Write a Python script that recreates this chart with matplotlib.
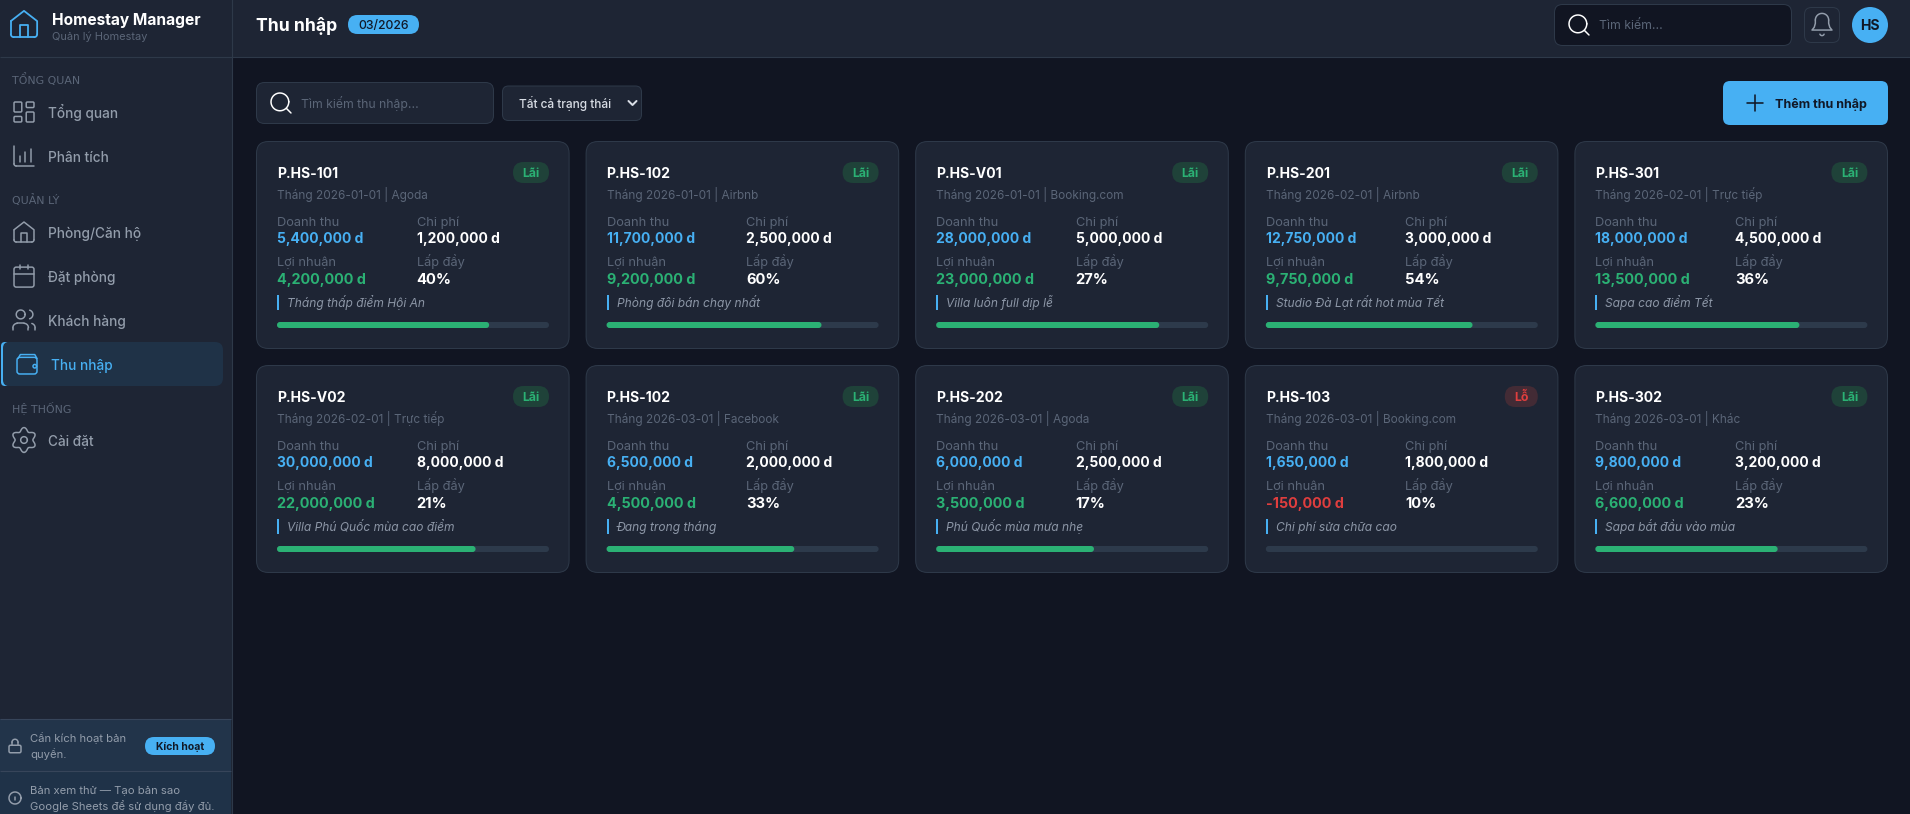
#!/usr/bin/env python3
import numpy as np
import matplotlib
matplotlib.use("Agg")
import matplotlib.pyplot as plt
from matplotlib.patches import FancyBboxPatch, Circle

plt.rcParams['font.family'] = ['Inter', 'Noto Sans', 'DejaVu Sans']

rooms = ["P.HS-101", "P.HS-102", "P.HS-V01", "P.HS-201", "P.HS-301",
         "P.HS-V02", "P.HS-102", "P.HS-202", "P.HS-103", "P.HS-302"]
periods = ["Tháng 2026-01-01 | Agoda", "Tháng 2026-01-01 | Airbnb",
           "Tháng 2026-01-01 | Booking.com", "Tháng 2026-02-01 | Airbnb",
           "Tháng 2026-02-01 | Trực tiếp", "Tháng 2026-02-01 | Trực tiếp",
           "Tháng 2026-03-01 | Facebook", "Tháng 2026-03-01 | Agoda",
           "Tháng 2026-03-01 | Booking.com", "Tháng 2026-03-01 | Khác"]
revenue = [5400000, 11700000, 28000000, 12750000, 18000000,
           30000000, 6500000, 6000000, 1650000, 9800000]
cost = [1200000, 2500000, 5000000, 3000000, 4500000,
        8000000, 2000000, 2500000, 1800000, 3200000]
profit = [4200000, 9200000, 23000000, 9750000, 13500000,
          22000000, 4500000, 3500000, -150000, 6600000]
occupancy = [40, 60, 27, 54, 36, 21, 33, 17, 10, 23]
notes = ["Tháng thấp điểm Hội An", "Phòng đôi bán chạy nhất", "Villa luôn full dịp lễ",
         "Studio Đà Lạt rất hot mùa Tết", "Sapa cao điểm Tết", "Villa Phú Quốc mùa cao điểm",
         "Đang trong tháng", "Phú Quốc mùa mưa nhẹ", "Chi phí sửa chữa cao",
         "Sapa bắt đầu vào mùa"]
progress = [78, 79, 82, 76, 75, 73, 69, 58, 0, 67]

BG = "#111522"
PANEL = "#1e2534"
LINE = "#2e3949"
BLUE = "#47b0f3"
GREEN = "#2bb174"
RED = "#e03e3e"
DIM = "#5b6678"
MENU = "#939dab"
DARK = "#111827"

fig = plt.figure(figsize=(19.10, 8.14), dpi=100, facecolor=BG)
ax = fig.add_axes([0, 0, 1, 1])
ax.set_xlim(0, 1910)
ax.set_ylim(814, 0)
ax.axis("off")


def txt(x, y, s, px, color, weight="normal", ha="left", style="normal", family=None):
    kw = {"family": family} if family else {}
    ax.text(x, y, s, fontsize=px * 0.72, color=color, fontweight=weight, ha=ha,
            va="baseline", fontstyle=style, **kw)


def box(x0, y0, x1, y1, r, fc, ec="none", lw=1.0, z=1):
    ax.add_patch(FancyBboxPatch((x0 + r, y0 + r), x1 - x0 - 2 * r, y1 - y0 - 2 * r,
                                boxstyle=f"round,pad={r},rounding_size={r}",
                                fc=fc, ec=ec, lw=lw * 0.72, zorder=z))


def rect(x0, y0, x1, y1, fc, z=1):
    ax.fill([x0, x1, x1, x0], [y0, y0, y1, y1], color=fc, lw=0, zorder=z)


def hline(x0, x1, y, color=LINE):
    ax.plot([x0, x1], [y, y], color=color, lw=0.8, zorder=2, solid_capstyle="butt")


# icons are drawn in a 24 unit box, centred on cx, cy
class Icon:
    def __init__(self, cx, cy, s, color, lw=1.5):
        self.cx, self.cy, self.s, self.color, self.lw = cx, cy, s, color, lw

    def line(self, *pts):
        p = np.array(pts, dtype=float)
        ax.plot(self.cx + (p[:, 0] - 12) * self.s, self.cy + (p[:, 1] - 12) * self.s,
                color=self.color, lw=self.lw * 0.72, zorder=5,
                solid_capstyle="round", solid_joinstyle="round")

    def arc(self, x, y, r, t0=0, t1=360):
        t = np.radians(np.linspace(t0, t1, 40))
        self.line(*zip(x + r * np.cos(t), y + r * np.sin(t)))

    def rrect(self, x, y, w, h, r):
        c = self.cx + (x - 12) * self.s
        d = self.cy + (y - 12) * self.s
        box(c, d, c + w * self.s, d + h * self.s, r * self.s, "none", self.color, self.lw, z=5)


def home(cx, cy, s, color, lw=1.5):
    i = Icon(cx, cy, s, color, lw)
    i.line((3, 10), (12, 3), (21, 10), (21, 19))
    i.arc(19, 19, 2, 0, 90)
    i.line((19, 21), (5, 21))
    i.arc(5, 19, 2, 90, 180)
    i.line((3, 19), (3, 10))
    i.line((9, 21), (9, 13), (15, 13), (15, 21))


def grid(cx, cy, s, color):
    i = Icon(cx, cy, s, color)
    i.rrect(3, 3, 7, 9, 1)
    i.rrect(14, 3, 7, 5, 1)
    i.rrect(14, 12, 7, 9, 1)
    i.rrect(3, 16, 7, 5, 1)


def chart(cx, cy, s, color):
    i = Icon(cx, cy, s, color)
    i.line((3, 3), (3, 19))
    i.arc(5, 19, 2, 90, 180)
    i.line((5, 21), (21, 21))
    i.line((8, 17), (8, 12))
    i.line((13, 17), (13, 8))
    i.line((18, 17), (18, 6))


def calendar(cx, cy, s, color):
    i = Icon(cx, cy, s, color)
    i.rrect(3, 4, 18, 18, 2)
    i.line((3, 10), (21, 10))
    i.line((8, 2), (8, 6))
    i.line((16, 2), (16, 6))


def users(cx, cy, s, color):
    i = Icon(cx, cy, s, color)
    i.arc(9, 7, 4)
    i.line((2, 21), (2, 19))
    i.arc(6, 19, 4, 180, 270)
    i.line((6, 15), (12, 15))
    i.arc(12, 19, 4, 270, 360)
    i.line((16, 19), (16, 21))
    i.arc(16, 7, 4, -75, 75)
    i.arc(18, 19, 4, 285, 360)
    i.line((22, 19), (22, 21))


def wallet(cx, cy, s, color):
    i = Icon(cx, cy, s, color)
    i.rrect(3, 6, 18, 15, 2.5)
    i.line((4, 7), (6, 3.5), (19, 3.5), (21, 7))
    i.arc(19, 14, 1.6)


def gear(cx, cy, s, color):
    i = Icon(cx, cy, s, color)
    t = np.linspace(0, 2 * np.pi, 120)
    r = 9.6 + 1.6 * np.cos(6 * t)
    i.line(*zip(12 + r * np.sin(t), 12 + r * np.cos(t)))
    i.arc(12, 12, 3)


def lock(cx, cy, s, color):
    i = Icon(cx, cy, s, color)
    i.rrect(4, 11, 16, 10, 2)
    i.line((8, 11), (8, 7))
    i.arc(12, 7, 4, 180, 360)
    i.line((16, 7), (16, 11))


def info(cx, cy, s, color):
    i = Icon(cx, cy, s, color)
    i.arc(12, 12, 10)
    i.line((12, 16), (12, 11))
    i.line((12, 8), (12, 8.1))


def search(cx, cy, s):
    i = Icon(cx, cy, s, "white")
    i.arc(11, 11, 8)
    i.line((17, 17), (21, 21))


def bell(cx, cy, s, color):
    i = Icon(cx, cy, s, color)
    i.arc(12, 8, 6, 180, 360)
    i.line((6, 8), (6, 11), (5, 14.5), (3, 17), (21, 17), (19, 14.5), (18, 11), (18, 8))
    i.arc(12, 20, 2, 20, 160)


# sidebar
rect(0, 0, 231.5, 814, PANEL)
ax.plot([231.5, 231.5], [0, 814], color=LINE, lw=0.8, zorder=3)
hline(0, 231.5, 57.3)
home(24, 24, 1.46, BLUE, 1.8)
txt(52, 25.5, "Homestay Manager", 15.5, "white", "bold")
txt(52, 39.5, "Quản lý Homestay", 11, DIM)

txt(12, 84, "TỔNG QUAN", 11, DIM, family="DejaVu Sans")
grid(24, 112, 1.11, MENU)
txt(48, 118, "Tổng quan", 13.6, MENU, "medium")
chart(24, 156, 1.11, MENU)
txt(48, 162, "Phân tích", 13.6, MENU, "medium")
txt(12, 204, "QUẢN LÝ", 11, DIM, family="DejaVu Sans")
home(24, 232, 1.11, MENU)
txt(48, 238, "Phòng/Căn hộ", 13.6, MENU, "medium")
calendar(24, 276, 1.11, MENU)
txt(48, 282, "Đặt phòng", 13.6, MENU, "medium")
users(24, 320, 1.11, MENU)
txt(48, 326, "Khách hàng", 13.6, MENU, "medium")
box(1, 342, 223, 386, 8, "#1f3247")
box(1, 342, 9, 386, 4, BLUE, z=1)
box(3, 342, 20, 386, 6, "#1f3247", z=1.5)
wallet(27, 364, 1.11, BLUE)
txt(51, 370, "Thu nhập", 13.6, BLUE, "medium")
txt(12, 412, "HỆ THỐNG", 11, DIM, family="DejaVu Sans")
gear(24, 440, 1.11, MENU)
txt(48, 446, "Cài đặt", 13.6, MENU, "medium")

rect(0, 719, 231, 771, "#22344a", z=1.6)
rect(0, 771, 231, 814, "#1f3248", z=1.6)
hline(0, 231, 719.3, "#37455a")
hline(0, 231, 771.3, "#37455a")
lock(15, 746, 0.75, MENU)
txt(30, 742, "Cần kích hoạt bản", 11.3, MENU)
txt(30, 758, "quyền.", 11.3, MENU)
box(145, 737, 215, 755, 9, BLUE, z=3)
txt(180, 750, "Kích hoạt", 10.4, DARK, "bold", ha="center")
info(15, 798, 0.6, MENU)
txt(30, 794, "Bản xem thử — Tạo bản sao", 11.3, MENU)
txt(30, 810, "Google Sheets để sử dụng đầy đủ.", 11.3, MENU)

# header
rect(232, 0, 1910, 57, PANEL)
hline(232, 1910, 56.7)
txt(256, 31, "Thu nhập", 17.6, "white", "bold")
box(348, 15, 419, 34, 9.5, BLUE)
txt(383.5, 29, "03/2026", 12.3, DARK, "medium", ha="center")
box(1554.5, 4.5, 1791.5, 45.5, 8, BG, LINE)
search(1579, 25, 1.11)
txt(1599, 29, "Tìm kiếm...", 12.3, DIM)
box(1804.5, 7.5, 1839.5, 42.5, 7, "none", LINE)
bell(1822, 24.5, 1.11, MENU)
ax.add_patch(Circle((1870, 25), 18, fc=BLUE, ec="none", zorder=2))
txt(1870, 30, "HS", 14, DARK, "bold", ha="center")

# toolbar
box(256.5, 82.5, 493.5, 123.5, 8, PANEL, LINE)
search(281, 103, 1.11)
txt(301, 108, "Tìm kiếm thu nhập...", 12.2, DIM)
box(502.5, 86, 641.5, 120.5, 6, PANEL, LINE)
txt(519, 108.3, "Tất cả trạng thái", 11.9, "#d8dde5", "medium")
Icon(632.5, 103, 0.67, "#d8dde5", 2).line((6, 9), (12, 15), (18, 9))
box(1723, 81, 1888, 125, 7, BLUE)
plus = Icon(1755, 103, 1, DARK, 1.6)
plus.line((4, 12), (20, 12))
plus.line((12, 4), (12, 20))
txt(1775, 108, "Thêm thu nhập", 12.6, DARK, "bold")

# cards
CARD_W, CARD_H = 313.6, 207.5
for n in range(len(rooms)):
    x = 256 + (n % 5) * 329.6
    y = 141 + (n // 5) * 224
    box(x + 0.5, y + 0.5, x + CARD_W - 0.5, y + CARD_H, 12, PANEL, LINE)
    left, mid, right = x + 21, x + 160.5, x + 293
    txt(left, y + 37.3, rooms[n], 14, "white", "bold")
    loss = profit[n] < 0
    if loss:
        box(right - 33, y + 21, right, y + 42, 10.5, "#432b35")
        txt(right - 16.5, y + 36, "Lỗ", 12.3, RED, "bold", ha="center")
    else:
        box(right - 36, y + 21, right, y + 42, 10.5, "#1f4239")
        txt(right - 18, y + 36, "Lãi", 12.3, GREEN, "bold", ha="center")
    txt(left, y + 58.3, periods[n], 11.8, DIM)
    txt(left, y + 85, "Doanh thu", 12.8, DIM)
    txt(left, y + 102.3, f"{revenue[n]:,} d", 13.9, BLUE, "bold")
    txt(mid, y + 85, "Chi phí", 12.8, DIM)
    txt(mid, y + 102.3, f"{cost[n]:,} d", 13.9, "white", "bold")
    txt(left, y + 125, "Lợi nhuận", 12.8, DIM)
    txt(left, y + 143, f"{profit[n]:,} d", 14.4, RED if loss else GREEN, "bold")
    txt(mid, y + 125, "Lấp đầy", 12.8, DIM)
    txt(mid, y + 143, f"{occupancy[n]}%", 14.8, "white", "bold")
    rect(left, y + 154, left + 2, y + 169, BLUE, z=2)
    txt(left + 10, y + 165.7, notes[n], 12, "#8c96a6", style="italic")
    track = right - left
    box(left, y + 181, right, y + 187, 3, "#2d3a4b", z=2)
    if progress[n] > 0:
        box(left, y + 181, left + track * progress[n] / 100, y + 187, 3, GREEN, z=3)

fig.savefig("out.png", dpi=100, facecolor=BG)
